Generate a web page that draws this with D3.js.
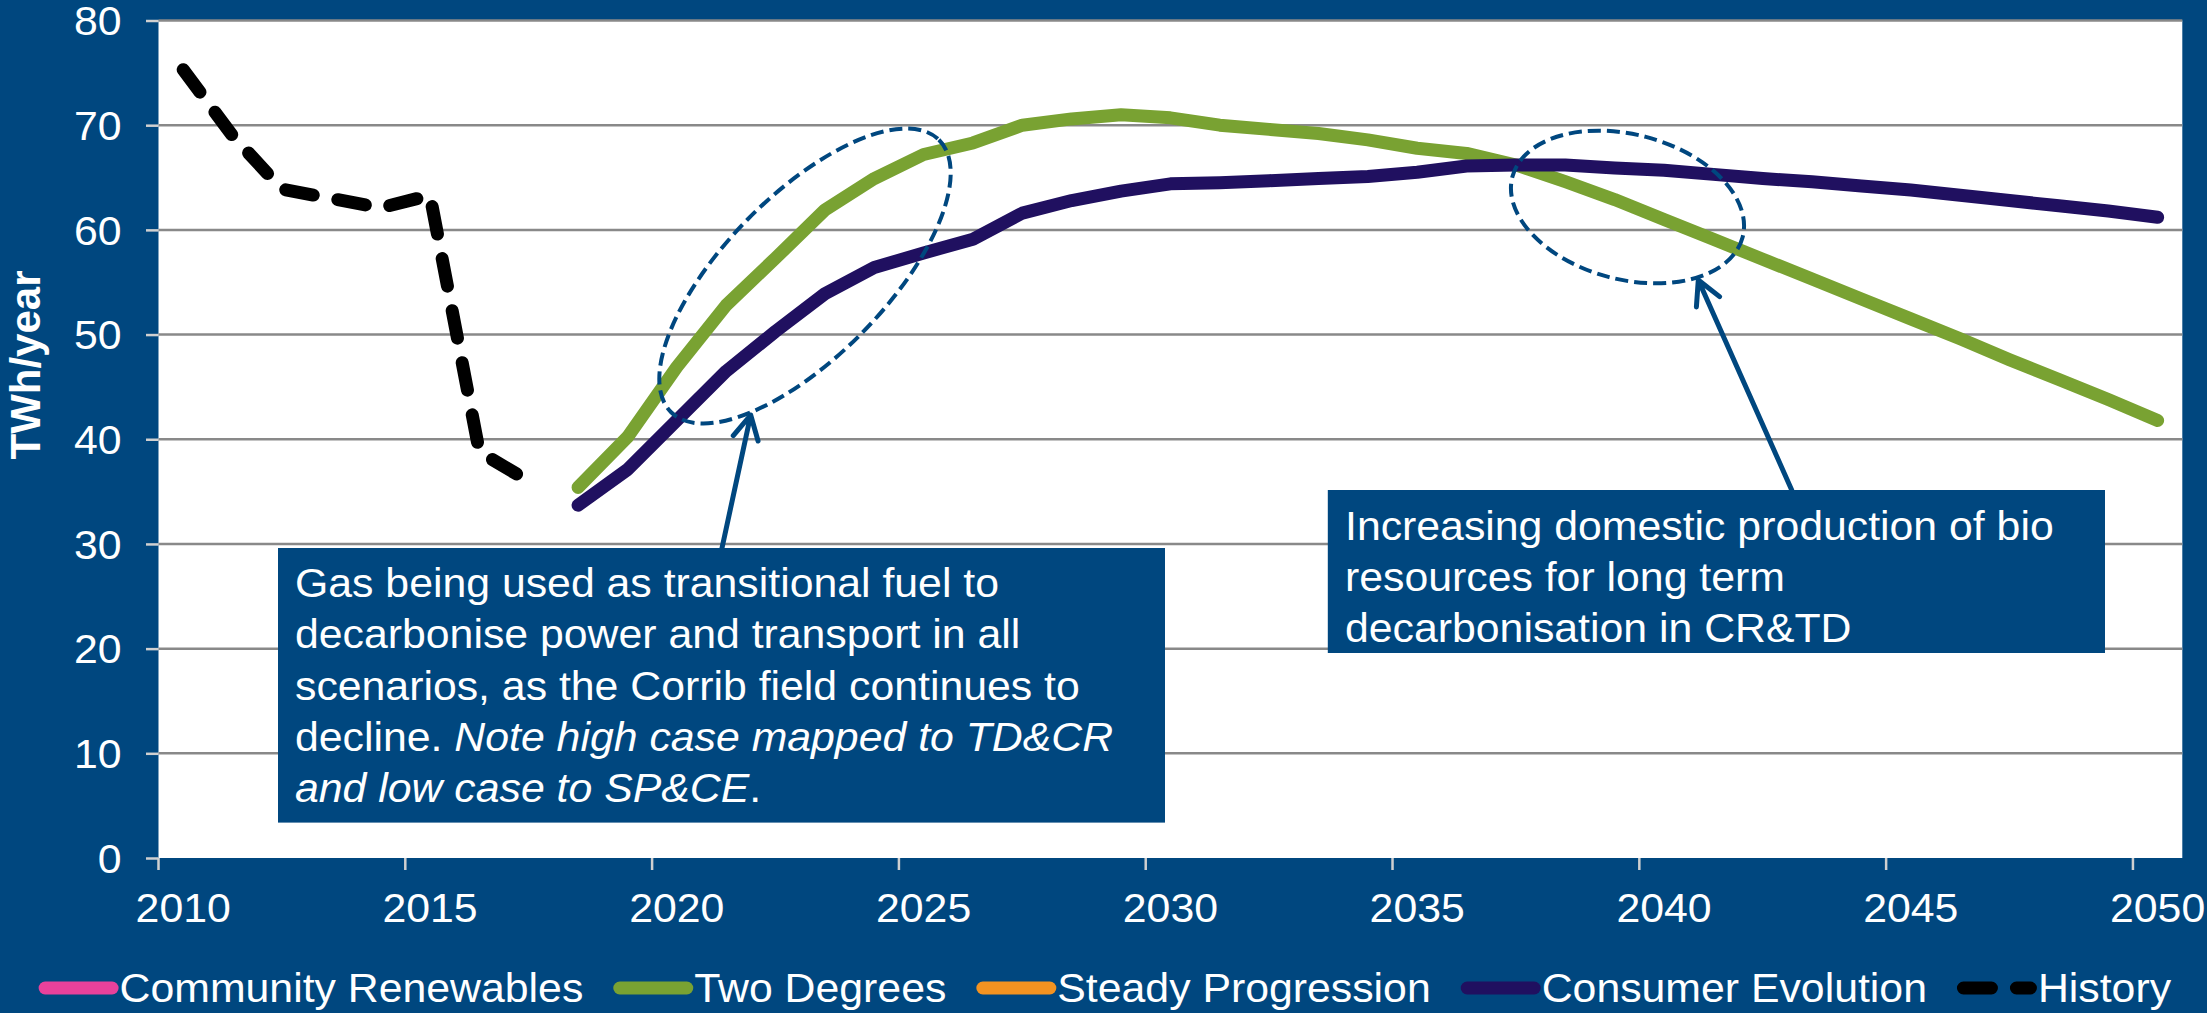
<!DOCTYPE html>
<html>
<head>
<meta charset="utf-8">
<script src="https://cdn.jsdelivr.net/npm/d3@7"></script>
<style>
  html, body { margin: 0; padding: 0; background: #00477f; overflow: hidden; }
  svg { display: block; font-family: "Liberation Sans", Arial, sans-serif; }
</style>
</head>
<body>
<div id="chart"></div>
<script>
// Categories and ticks
const years = d3.range(2010, 2051)
const yTicks = [0, 10, 20, 30, 40, 50, 60, 70, 80]
const xTickYears = [2010, 2015, 2020, 2025, 2030, 2035, 2040, 2045, 2050]

// Series (TWh/year)
const historyStart = 2010
const history = [75.3, 69.0, 63.9, 63.0, 62.1, 63.3, 38.8, 36.0]

const scenarioStart = 2018
const twoDegrees = [35.4, 40.2, 46.9, 52.8, 57.3, 61.9, 64.9, 67.2, 68.3, 70.0,
  70.6, 71.0, 70.7, 70.0, 69.6, 69.2, 68.6, 67.8, 67.3, 66.2,
  64.6, 62.9, 61.0, 59.1, 57.2, 55.3, 53.4, 51.5, 49.6, 47.6,
  45.7, 43.8, 41.8]
const consumerEvolution = [33.7, 37.1, 41.8, 46.5, 50.3, 53.9, 56.4, 57.8, 59.1, 61.6,
  62.8, 63.7, 64.4, 64.5, 64.7, 64.9, 65.1, 65.5, 66.1, 66.2,
  66.2, 65.9, 65.7, 65.3, 64.9, 64.6, 64.2, 63.8, 63.3, 62.8,
  62.3, 61.8, 61.2]
// these two have no visible line in the source, only legend entries
const communityRenewables = []
const steadyProgression = []

const legendNames = ["Community Renewables", "Two Degrees", "Steady Progression", "Consumer Evolution", "History"]
const legendColors = ["#e8419b", "#79a232", "#f39321", "#201060", "#000000"]

const noteGas = [
  [["Gas being used as transitional fuel to", false]],
  [["decarbonise power and transport in all", false]],
  [["scenarios, as the Corrib field continues to", false]],
  [["decline. ", false], ["Note high case mapped to TD&CR", true]],
  [["and low case to SP&CE", true], [".", false]]
]
const noteBio = [
  [["Increasing domestic production of bio", false]],
  [["resources for long term", false]],
  [["decarbonisation in CR&TD", false]]
]

// Layout
let width = 2207
let height = 1013
let plot = {left: 158.5, right: 2182.3, top: 20.5, bottom: 858}
let bg = "#00477f"
let SX = 1.07   // source text is slightly stretched horizontally

let svg = d3.select("#chart").append("svg")
    .attr("width", width)
    .attr("height", height)

svg.append("rect").attr("width", width).attr("height", height).attr("fill", bg)

let x = d3.scaleBand().domain(years).range([plot.left, plot.right]).padding(0)
let xc = yr => x(yr) + x.bandwidth() / 2
let y = d3.scaleLinear().domain([0, 80]).range([plot.bottom, plot.top])

svg.append("rect")
    .attr("x", plot.left).attr("y", plot.top)
    .attr("width", plot.right - plot.left).attr("height", plot.bottom - plot.top)
    .attr("fill", "#fff")

// gridlines
svg.append("g").selectAll("line")
    .data(yTicks.filter(v => v > 0))
    .enter().append("line")
    .attr("x1", plot.left).attr("x2", plot.right)
    .attr("y1", d => y(d)).attr("y2", d => y(d))
    .attr("stroke", "#898989").attr("stroke-width", 2.5)

// y axis
let yAxis = svg.append("g")
    .attr("transform", "translate(" + plot.left + ",0)")
    .call(d3.axisLeft(y).tickValues(yTicks).tickSize(12.5))
    .attr("font-size", 40).attr("font-family", null)
yAxis.select(".domain").remove()
yAxis.selectAll(".tick line").attr("stroke", "#d0d0d0").attr("stroke-width", 2.5)
yAxis.selectAll(".tick text")
    .attr("x", null).attr("dy", null)
    .attr("transform", "translate(-37,14.3) scale(" + SX + ",1)")
    .attr("fill", "#fff")

// x axis: labels at category centres, ticks at category boundaries
let xAxis = svg.append("g")
    .attr("transform", "translate(0," + plot.bottom + ")")
    .call(d3.axisBottom(x).tickValues(xTickYears).tickSize(0))
    .attr("font-size", 40).attr("font-family", null)
xAxis.select(".domain").remove()
xAxis.selectAll(".tick text")
    .attr("y", null).attr("dy", null)
    .attr("transform", "translate(0,64) scale(" + SX + ",1)")
    .attr("fill", "#fff")

svg.append("g").selectAll("line")
    .data(xTickYears)
    .enter().append("line")
    .attr("x1", d => x(d)).attr("x2", d => x(d))
    .attr("y1", plot.bottom).attr("y2", plot.bottom + 12)
    .attr("stroke", "#d0d0d0").attr("stroke-width", 2.5)

svg.append("text")
    .attr("transform", "translate(40,365) rotate(-90)")
    .attr("text-anchor", "middle")
    .attr("font-size", 42).attr("font-weight", "bold")
    .attr("fill", "#fff")
    .text("TWh/year")

// series
let series = [
    {name: "Community Renewables", start: scenarioStart, values: communityRenewables, color: legendColors[0]},
    {name: "Two Degrees", start: scenarioStart, values: twoDegrees, color: legendColors[1]},
    {name: "Steady Progression", start: scenarioStart, values: steadyProgression, color: legendColors[2]},
    {name: "Consumer Evolution", start: scenarioStart, values: consumerEvolution, color: legendColors[3]},
    {name: "History", start: historyStart, values: history, color: legendColors[4], dash: "28 25"}
]

let line = d3.line()
    .x((d, i, arr) => xc(d.year))
    .y(d => y(d.value))

svg.append("g").selectAll("path")
    .data(series.filter(s => s.values.length))
    .enter().append("path")
    .attr("d", s => line(s.values.map((v, i) => ({year: s.start + i, value: v}))))
    .attr("fill", "none")
    .attr("stroke", s => s.color)
    .attr("stroke-width", 13)
    .attr("stroke-linecap", "round")
    .attr("stroke-linejoin", "round")
    .attr("stroke-dasharray", s => s.dash || null)

// annotation ellipses
let ellipses = [
    {cx: 805, cy: 276, rx: 191, ry: 80.6, rot: -45.5},
    {cx: 1627.5, cy: 207, rx: 119, ry: 72.5, rot: 14.7}
]
svg.append("g").selectAll("ellipse")
    .data(ellipses)
    .enter().append("ellipse")
    .attr("transform", d => "translate(" + d.cx + "," + d.cy + ") rotate(" + d.rot + ")")
    .attr("rx", d => d.rx).attr("ry", d => d.ry)
    .attr("fill", "none")
    .attr("stroke", bg).attr("stroke-width", 4)
    .attr("stroke-dasharray", "13 6")

// arrows (open heads)
let arrows = [
    {x1: 722, y1: 548, x2: 750.7, y2: 415},
    {x1: 1791.7, y1: 490, x2: 1698.3, y2: 280}
]
arrows.forEach(a => {
    let ang = Math.atan2(a.y1 - a.y2, a.x1 - a.x2)
    let wing = 27, spread = 28 * Math.PI / 180
    let p1 = [a.x2 + wing * Math.cos(ang - spread), a.y2 + wing * Math.sin(ang - spread)]
    let p2 = [a.x2 + wing * Math.cos(ang + spread), a.y2 + wing * Math.sin(ang + spread)]
    svg.append("path")
        .attr("d", "M" + a.x1 + "," + a.y1 + "L" + a.x2 + "," + a.y2 +
            "M" + p1 + "L" + a.x2 + "," + a.y2 + "L" + p2)
        .attr("fill", "none")
        .attr("stroke", bg).attr("stroke-width", 5)
        .attr("stroke-linecap", "round").attr("stroke-linejoin", "round")
})

// text boxes
function textBox(box, lines) {
    let g = svg.append("g")
    g.append("rect")
        .attr("x", box.x).attr("y", box.y)
        .attr("width", box.w).attr("height", box.h)
        .attr("fill", bg)
    lines.forEach((segs, i) => {
        let t = g.append("text")
            .attr("transform", "translate(" + box.tx + "," + (box.ty + i * box.lh) + ") scale(" + SX + ",1)")
            .attr("font-size", 40).attr("fill", "#fff")
        segs.forEach(s => {
            t.append("tspan")
                .attr("font-style", s[1] ? "italic" : null)
                .text(s[0])
        })
    })
}
textBox({x: 278, y: 548, w: 887, h: 274.6, tx: 295, ty: 597, lh: 51.3}, noteGas)
textBox({x: 1327.8, y: 490, w: 777.2, h: 163, tx: 1345, ty: 540, lh: 51}, noteBio)

// legend
let legend = svg.append("g")
let lx = 38.6
legendNames.forEach((name, i) => {
    let s = series[i]
    legend.append("line")
        .attr("x1", lx + 6.5).attr("x2", lx + 73.5)
        .attr("y1", 988).attr("y2", 988)
        .attr("stroke", legendColors[i]).attr("stroke-width", 13)
        .attr("stroke-linecap", "round")
        .attr("stroke-dasharray", s.dash || null)
    let t = legend.append("text")
        .attr("transform", "translate(" + (lx + 81) + ",1001.7) scale(" + SX + ",1)")
        .attr("font-size", 40).attr("fill", "#fff")
        .text(name)
    lx += 81 + t.node().getComputedTextLength() * SX + 30
})
</script>
</body>
</html>
